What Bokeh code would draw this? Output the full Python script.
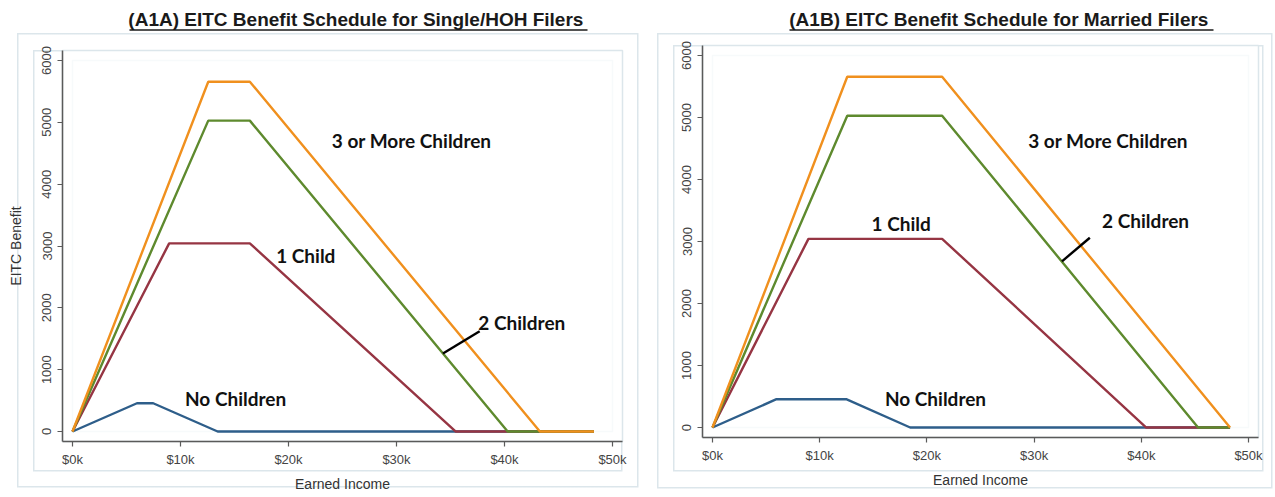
from bokeh.plotting import figure
from bokeh.layouts import row, column
from bokeh.models import FixedTicker, BoxAnnotation, Range1d, ColumnDataSource
from bokeh.core.properties import value
from bokeh.embed import file_html
from bokeh.resources import INLINE

# ---------------- data ----------------
x_ticks = [0, 10000, 20000, 30000, 40000, 50000]
x_tick_labels = ["$0k", "$10k", "$20k", "$30k", "$40k", "$50k"]
y_ticks = [0, 1000, 2000, 3000, 4000, 5000, 6000]

titles = ["(A1A)  EITC Benefit Schedule for Single/HOH Filers",
          "(A1B)  EITC Benefit Schedule for Married Filers"]

series_names = ["No Children", "1 Child", "2 Children", "3 or More Children"]
series_colors = ["#2E5E8A", "#963543", "#5E8A2E", "#F0901E"]

# Single / HOH filers (earned income breakpoints, benefit)
single_x = {
    "No Children": [0, 5970, 7470, 13440, 48279],
    "1 Child": [0, 8950, 16420, 35463, 48279],
    "2 Children": [0, 12570, 16420, 40295, 48279],
    "3 or More Children": [0, 12570, 16420, 43279, 48279],
}
single_y = {
    "No Children": [0, 457, 457, 0, 0],
    "1 Child": [0, 3043, 3043, 0, 0],
    "2 Children": [0, 5028, 5028, 0, 0],
    "3 or More Children": [0, 5657, 5657, 0, 0],
}
# Married filers
married_x = {
    "No Children": [0, 5970, 12470, 18440, 48279],
    "1 Child": [0, 8950, 21420, 40463, 48279],
    "2 Children": [0, 12570, 21420, 45295, 48279],
    "3 or More Children": [0, 12570, 21420, 48279, 48279],
}
married_y = {
    "No Children": [0, 457, 457, 0, 0],
    "1 Child": [0, 3043, 3043, 0, 0],
    "2 Children": [0, 5028, 5028, 0, 0],
    "3 or More Children": [0, 5657, 5657, 0, 0],
}

# in-plot label positions (data coordinates)
single_label_x = [15100, 21600, 41600, 31400]
single_label_y = [530, 2850, 1760, 4700]
married_label_x = [20800, 17600, 40400, 36900]
married_label_y = [470, 3290, 3340, 4630]

# leader line for "2 Children"
single_leader = ([34300, 37700], [1262, 1620])
married_leader = ([32600, 35200], [2680, 3060])

TICK_FONT = "'Liberation Sans Narrow', 'Liberation Sans', Arial"
TITLE_FONT = "Liberation Sans"
LABEL_FONT = "Lato"
TITLE_H = 33
MAIN_H = 463
FRAME_COLOR = "#DCE6EB"


def box_css(boxes, color=FRAME_COLOR, lw=1.5):
    """CSS background layers drawing thin rectangle outlines (graph-region frames)."""
    imgs, poss, sizes = [], [], []
    for (l, r, t, b) in boxes:
        for (px, py, sx, sy) in ((l, t, r - l, lw), (l, b, r - l + lw, lw),
                                 (l, t, lw, b - t), (r, t, lw, b - t)):
            imgs.append(f"linear-gradient({color}, {color})")
            poss.append(f"{px}px {py}px")
            sizes.append(f"{sx}px {sy}px")
    return {"background-image": ", ".join(imgs),
            "background-position": ", ".join(poss),
            "background-size": ", ".join(sizes),
            "background-repeat": "no-repeat"}


def make_title(text, width, bl, br, cx, ul_width):
    t = figure(width=width, height=TITLE_H, output_backend="svg",
               toolbar_location=None, x_axis_type=None, y_axis_type=None,
               x_range=Range1d(bl, width - br), y_range=Range1d(TITLE_H, 0),
               min_border_left=bl, min_border_right=br,
               min_border_top=0, min_border_bottom=0)
    t.outline_line_color = None
    t.xgrid.visible = False
    t.ygrid.visible = False
    t.text(x=[cx], y=[19], text=[text], text_font=value(TITLE_FONT),
           text_font_style="bold", text_font_size="19px",
           text_align="center", text_baseline="middle", text_color="#1a1a1a")
    t.line([cx - ul_width / 2, cx + ul_width / 2], [29.5, 29.5],
           line_color="#1a1a1a", line_width=1.4)
    return t


def make_panel(xs, ys, lab_x, lab_y, leader, width, height,
               x_range, y_range, borders, ylabel, boxes):
    bl, br, bt, bb = borders
    p = figure(width=width, height=height, output_backend="svg",
               toolbar_location=None,
               x_range=Range1d(*x_range), y_range=Range1d(*y_range),
               min_border_left=bl, min_border_right=br,
               min_border_top=bt, min_border_bottom=bb,
               styles=box_css(boxes))

    p.outline_line_color = FRAME_COLOR
    p.outline_line_width = 1.5
    p.background_fill_color = "white"
    p.border_fill_alpha = 0
    p.xgrid.visible = False
    p.ygrid.visible = False

    for ax in (p.xaxis, p.yaxis):
        ax.axis_line_color = "#5a5a5a"
        ax.axis_line_width = 1.5
        ax.major_tick_line_color = "#5a5a5a"
        ax.major_tick_line_width = 1.2
        ax.major_tick_out = 5
        ax.major_tick_in = 0
        ax.minor_tick_line_color = None
        ax.major_label_text_font = TICK_FONT
        ax.major_label_text_font_size = "13px"
        ax.major_label_text_color = "#444444"
        ax.axis_label_text_font = TICK_FONT
        ax.axis_label_text_font_size = "14px"
        ax.axis_label_text_font_style = "normal"
        ax.axis_label_text_color = "#333333"

    p.xaxis.ticker = FixedTicker(ticks=x_ticks)
    p.xaxis.major_label_overrides = {t: l for t, l in zip(x_ticks, x_tick_labels)}
    p.xaxis.major_label_standoff = 5
    p.xaxis.axis_label = "Earned Income"
    p.xaxis.axis_label_standoff = 6

    p.yaxis.ticker = FixedTicker(ticks=y_ticks)
    p.yaxis.major_label_orientation = "vertical"
    p.yaxis.major_label_standoff = 6
    if ylabel:
        p.yaxis.axis_label = ylabel
        p.yaxis.axis_label_standoff = 16

    # plot region (data extent) box
    p.add_layout(BoxAnnotation(left=x_ticks[0], right=x_ticks[-1],
                               bottom=y_ticks[0], top=y_ticks[-1],
                               fill_alpha=0, line_color="#E6EEF2",
                               line_width=1.5, level="underlay"))

    for name, col in zip(series_names, series_colors):
        p.line(xs[name], ys[name], line_color=col, line_width=2.4)

    p.line(leader[0], leader[1], line_color="black", line_width=2.4)

    src = ColumnDataSource(dict(x=lab_x, y=lab_y, text=series_names))
    p.text(x="x", y="y", text="text", source=src,
           text_font=value(LABEL_FONT), text_font_style="bold",
           text_font_size="19px", text_align="center",
           text_baseline="middle", text_color="#111111")
    return p


t_left = make_title(titles[0], 640, 62, 18, 358, 458)
left = make_panel(single_x, single_y, single_label_x, single_label_y,
                  single_leader, 640, MAIN_H,
                  (-926, 50926), (-162, 6162), (62, 18, 17, 55),
                  "EITC Benefit",
                  [(17, 637, 0, 453), (33, 621, 17, 437)])
t_right = make_title(titles[1], 634, 62, 16, 361, 424)
right = make_panel(married_x, married_y, married_label_x, married_label_y,
                   married_leader, 634, MAIN_H,
                   (-933, 50933), (-161, 6161), (62, 16, 12, 59),
                   None,
                   [(17, 631, 0, 454), (33, 622, 12, 437)])

layout = row(column(t_left, left, spacing=0), column(t_right, right, spacing=0),
             spacing=0)
open("out.html", "w").write(file_html(layout, INLINE))
